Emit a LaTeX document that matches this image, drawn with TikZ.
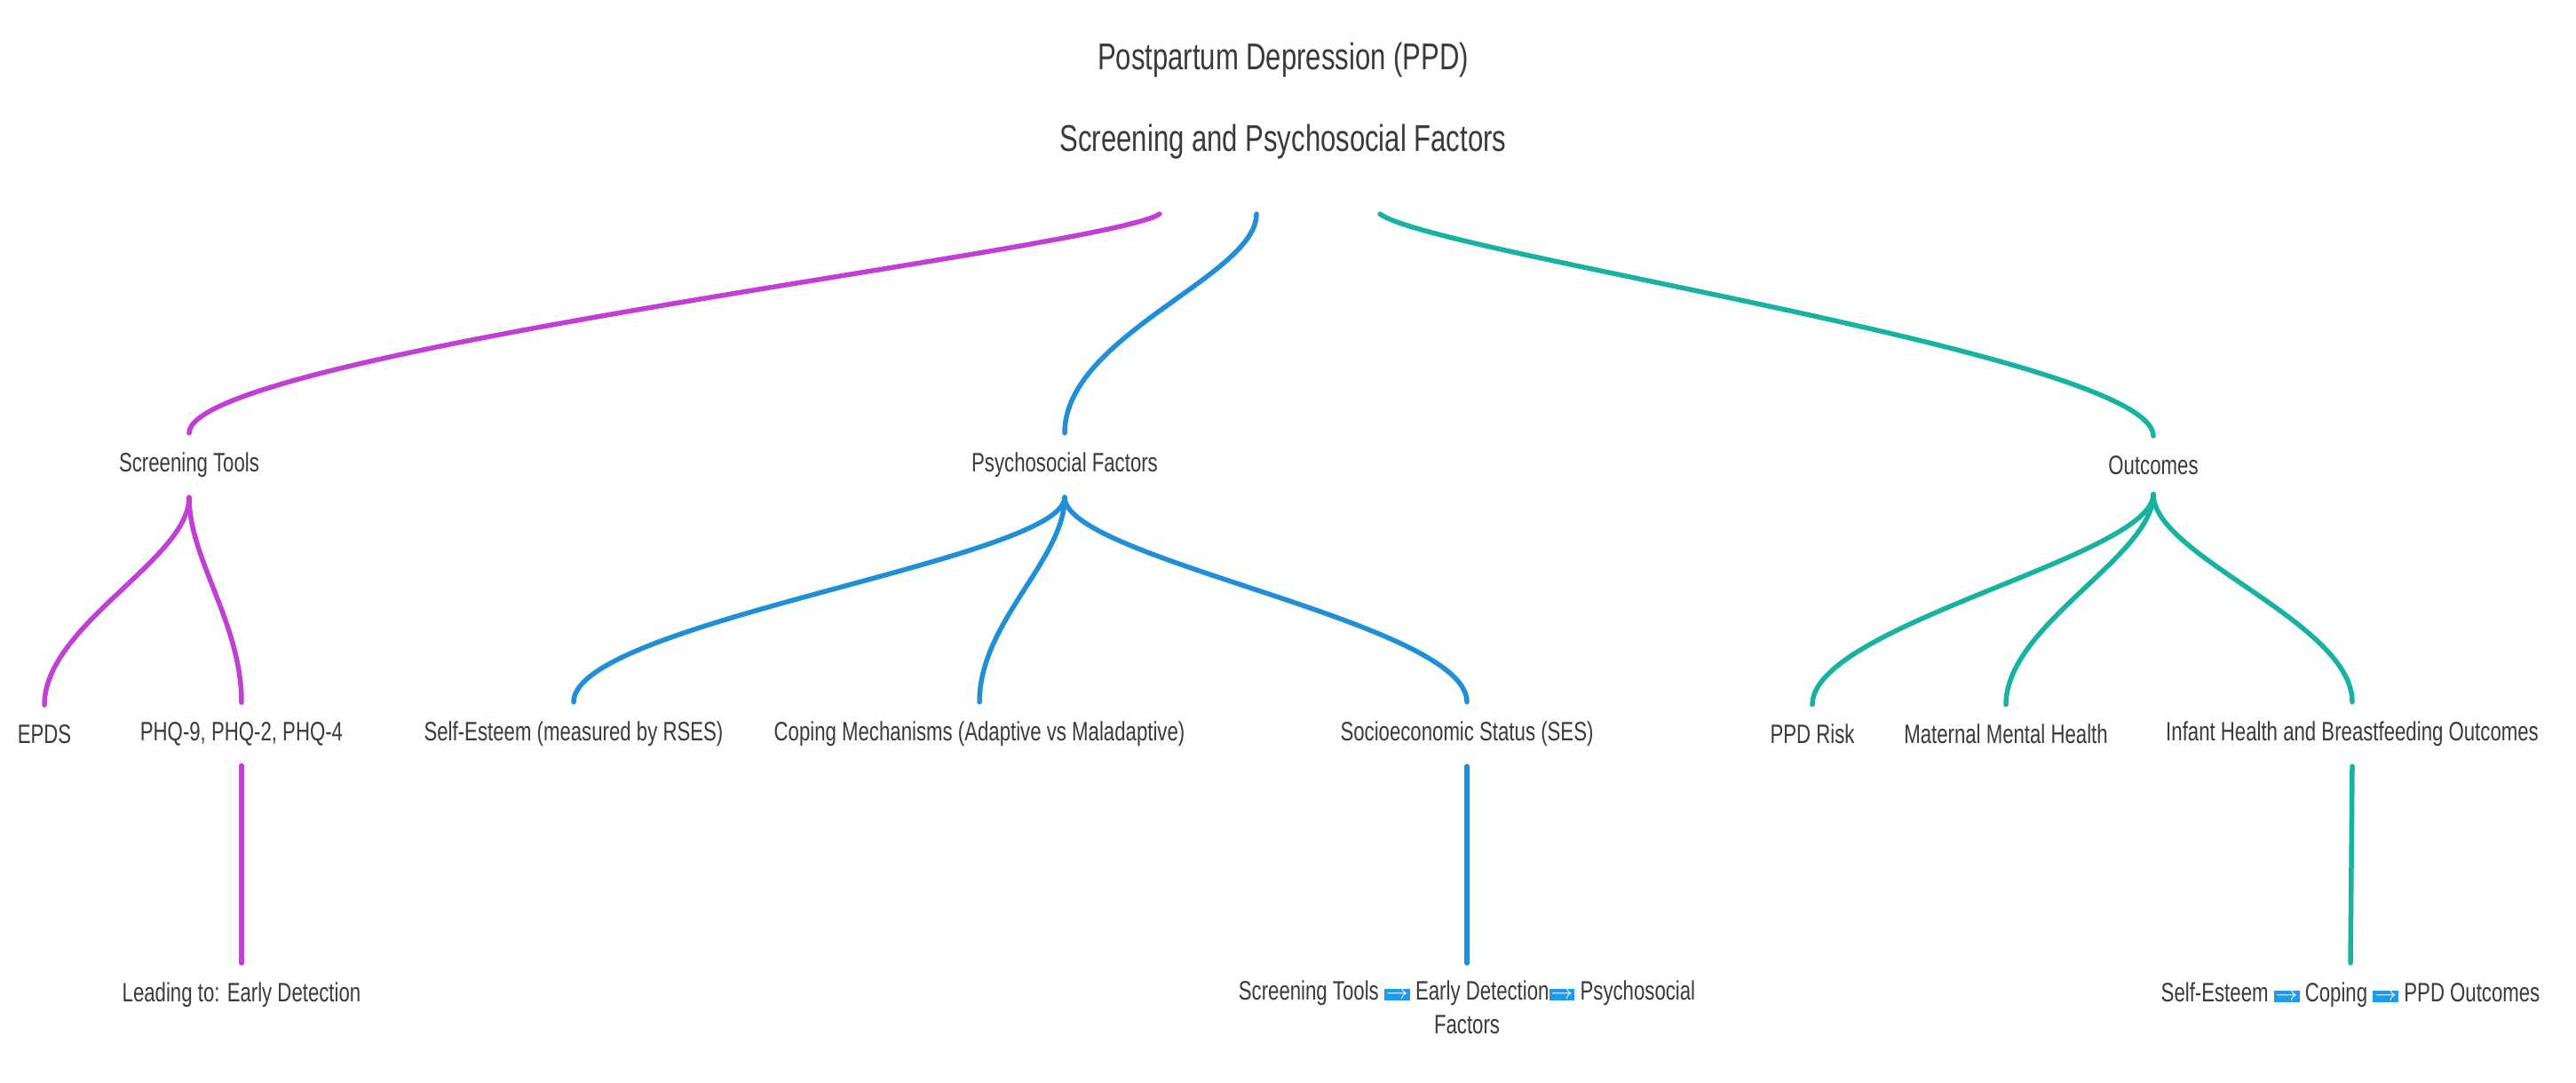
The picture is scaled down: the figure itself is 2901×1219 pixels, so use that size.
\documentclass[tikz,border=0pt]{standalone}
\usepackage{fontspec}
\setmainfont{Liberation Sans}[FakeStretch=0.74]
\usetikzlibrary{calc}
\definecolor{cpink}{HTML}{C23FD6}
\definecolor{cblue}{HTML}{1F8FDA}
\definecolor{cteal}{HTML}{17B3A1}
\definecolor{ctext}{HTML}{3A3A3A}
\definecolor{arrblue}{HTML}{1E9BE8}
\newcommand{\arrbox}{\raisebox{0.05em}{\setlength{\fboxsep}{2pt}\colorbox{arrblue}{\color{white}\fontsize{24}{24}\selectfont$\mathbf{\rightarrow}$}}}
\begin{document}
\begin{tikzpicture}[x=1pt,y=-1pt,
  lbl/.style={text=ctext,font=\fontsize{30}{38}\selectfont,inner sep=0pt,align=center},
  ttl/.style={text=ctext,font=\fontsize{42}{92}\selectfont,inner sep=0pt,align=center},
  edge/.style={line width=5.5pt,line cap=round}]
\useasboundingbox[fill=white] (0,0) rectangle (2901,1219);
\node[ttl] (t) at (1445,114) {Postpartum Depression (PPD)\\Screening and Psychosocial Factors};
\node[lbl] (st) at (213,524) {Screening Tools};
\node[lbl] (pf) at (1199,524) {Psychosocial Factors};
\node[lbl] (oc) at (2425,524) {Outcomes};
\node[lbl] (ep) at (50,827) {EPDS};
\node[lbl] (ph) at (272,827) {PHQ-9, PHQ-2, PHQ-4};
\node[lbl] (se) at (646,827) {Self-Esteem (measured by RSES)};
\node[lbl] (cm) at (1103,827) {Coping Mechanisms (Adaptive vs Maladaptive)};
\node[lbl] (ses) at (1652,827) {Socioeconomic Status (SES)};
\node[lbl] (pr) at (2041,827) {PPD Risk};
\node[lbl] (mm) at (2259,827) {Maternal Mental Health};
\node[lbl] (ih) at (2649,827) {Infant Health and Breastfeeding Outcomes};
\node[lbl] (ld) at (272,1121) {Leading to: Early Detection};
\node[lbl,anchor=north] (sc) at (1652,1105) {Screening Tools \arrbox{} Early Detection\arrbox{} Psychosocial\\Factors};
\node[lbl] (sc2) at (2647,1121) {Self-Esteem \arrbox{} Coping \arrbox{} PPD Outcomes};
% coordinates
\coordinate (tp) at (1306,241); \coordinate (tb) at (1415,241); \coordinate (tt) at (1554,241);
\coordinate (stt) at ($(st.north)+(0,-22)$); \coordinate (stb) at ($(st.south)+(0,22)$);
\coordinate (pft) at ($(pf.north)+(0,-22)$); \coordinate (pfb) at ($(pf.south)+(0,22)$);
\coordinate (oct) at ($(oc.north)+(0,-22)$); \coordinate (ocb) at ($(oc.south)+(0,22)$);
\foreach \n in {ep,ph,se,cm,ses,pr,mm,ih}{
  \coordinate (\n t) at ($(\n.north)+(0,-22)$);
  \coordinate (\n b) at ($(\n.south)+(0,22)$);}
\coordinate (ldt) at ($(ld.north)+(0,-22)$);
\coordinate (sct) at ($(sc.north)+(0,-20)$);
\coordinate (sc2t) at ($(sc2.north)+(0,-22)$);
% level 1
\draw[edge,cpink] (tp) .. controls ($(tp)+(-60,40)$) and ($(stt)+(0,-90)$) .. (stt);
\draw[edge,cblue] (tb) .. controls ($(tb)+(0,70)$) and ($(pft)+(0,-110)$) .. (pft);
\draw[edge,cteal] (tt) .. controls ($(tt)+(60,45)$) and ($(oct)+(0,-90)$) .. (oct);
% level 2
\foreach \p/\c/\col in {st/ep/cpink,st/ph/cpink,pf/se/cblue,pf/cm/cblue,pf/ses/cblue,oc/pr/cteal,oc/mm/cteal,oc/ih/cteal}{
  \draw[edge,\col] (\p b) .. controls ($(\p b)+(0,70)$) and ($(\c t)+(0,-90)$) .. (\c t);}
% level 3
\draw[edge,cpink] (phb) -- (ldt);
\draw[edge,cblue] (sesb) -- (sct);
\draw[edge,cteal] (ihb) -- (sc2t);
\end{tikzpicture}
\end{document}
